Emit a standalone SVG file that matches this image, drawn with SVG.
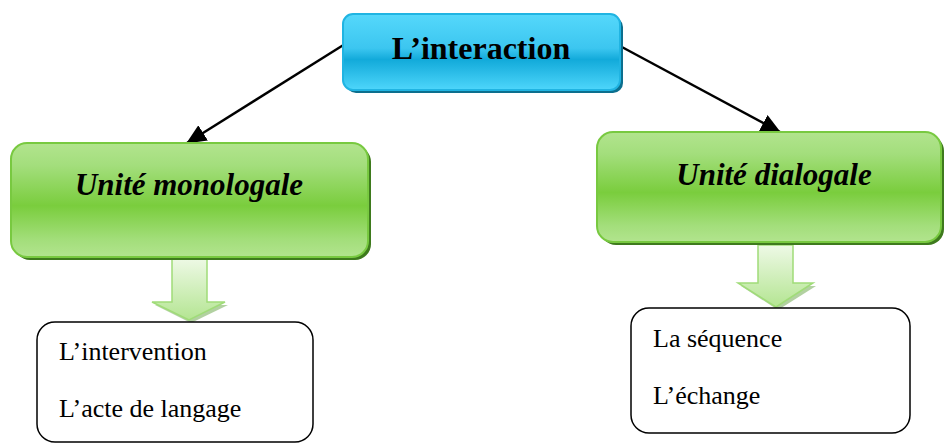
<svg xmlns="http://www.w3.org/2000/svg" width="944" height="444" viewBox="0 0 944 444">
  <defs>
    <linearGradient id="gBlue" x1="0" y1="0" x2="0" y2="1">
      <stop offset="0" stop-color="#55d8fb"/>
      <stop offset="0.45" stop-color="#3cc6f0"/>
      <stop offset="0.6" stop-color="#12aada"/>
      <stop offset="1" stop-color="#4ed6fb"/>
    </linearGradient>
    <linearGradient id="gGreen" x1="0" y1="0" x2="0" y2="1">
      <stop offset="0" stop-color="#b2e48e"/>
      <stop offset="0.2" stop-color="#a3de7c"/>
      <stop offset="0.55" stop-color="#7acd3d"/>
      <stop offset="0.85" stop-color="#a3de7b"/>
      <stop offset="1" stop-color="#b2e48e"/>
    </linearGradient>
    <linearGradient id="gArrow" x1="0" y1="0" x2="0" y2="1">
      <stop offset="0" stop-color="#eef9e6"/>
      <stop offset="1" stop-color="#b4e592"/>
    </linearGradient>
    <marker id="head" markerUnits="userSpaceOnUse" markerWidth="20" markerHeight="18" refX="19" refY="9" orient="auto">
      <path d="M0,0 L20,9 L0,18 Z" fill="#000"/>
    </marker>
    <style>
      .shadowB { fill: #0c6f8e; }
      .boxB { fill: url(#gBlue); stroke: #20b4e2; stroke-width: 2; }
      .shadowG { fill: #3e7a1d; }
      .boxG { fill: url(#gGreen); stroke: #78c940; stroke-width: 2; }
      .list { fill: #fff; stroke: #000; stroke-width: 1.5; }
      .blk { fill: url(#gArrow); stroke: #a0dc78; stroke-width: 1.5; }
      .blkShadow { fill: #9fc58a; opacity: 0.8; }
      text { font-family: "Liberation Serif", "DejaVu Serif", "Times New Roman", serif; fill: #000; }
      .title { font-weight: bold; font-size: 32px; }
      .unit { font-weight: bold; font-style: italic; font-size: 31px; }
      .item { font-size: 26px; }
      .link { stroke: #000; stroke-width: 2.4; fill: none; marker-end: url(#head); }
    </style>
  </defs>

  <!-- connectors -->
  <g id="connectors">
    <line class="link" x1="345" y1="44" x2="187" y2="143"/>
    <line class="link" x1="620" y1="46" x2="780" y2="132"/>
    <!-- block arrows under the unit boxes -->
    <path class="blkShadow" d="M155,305 L228,305 L191,323 Z"/>
    <path class="blk" d="M172,258 L207,258 L207,302 L225,302 L189,320 L152,302 L172,302 Z"/>
    <path class="blkShadow" d="M741,286 L816,286 L778,310 Z"/>
    <path class="blk" d="M758,245 L793,245 L793,283 L813,283 L776,307 L738,283 L758,283 Z"/>
  </g>

  <g id="interaction">
    <rect class="shadowB" x="346" y="17" width="277" height="76" rx="10"/>
    <rect class="boxB" x="343" y="14" width="277" height="76" rx="10"/>
    <text class="title" x="481" y="59" text-anchor="middle">L’interaction</text>
  </g>

  <g id="monologale">
    <rect class="shadowG" x="14" y="146" width="357" height="114" rx="16"/>
    <rect class="boxG" x="11" y="143" width="357" height="114" rx="16"/>
    <text class="unit" x="189" y="195" text-anchor="middle">Unité monologale</text>
  </g>

  <g id="dialogale">
    <rect class="shadowG" x="600" y="135" width="344" height="110" rx="16"/>
    <rect class="boxG" x="597" y="132" width="344" height="110" rx="16"/>
    <text class="unit" x="774" y="185" text-anchor="middle">Unité dialogale</text>
  </g>

  <g id="monologale-items">
    <rect class="list" x="37" y="322" width="276" height="120" rx="18"/>
    <text class="item" x="59" y="360">L’intervention</text>
    <text class="item" x="59" y="417">L’acte de langage</text>
  </g>

  <g id="dialogale-items">
    <rect class="list" x="631" y="308" width="279" height="125" rx="18"/>
    <text class="item" x="653" y="347">La séquence</text>
    <text class="item" x="653" y="404">L’échange</text>
  </g>
</svg>
